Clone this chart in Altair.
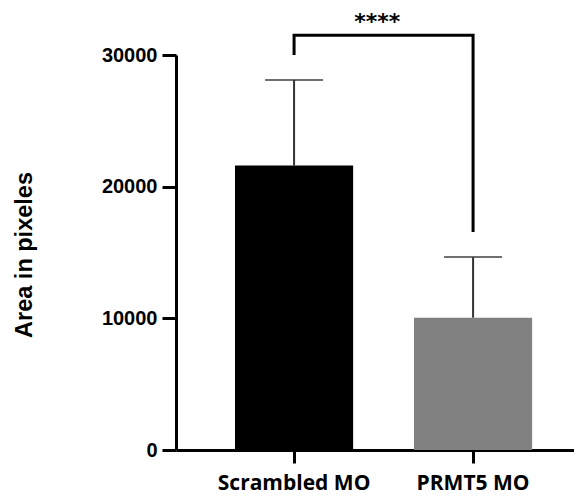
import altair as alt
import pandas as pd

groups = ["Scrambled MO", "PRMT5 MO"]
means = [21600, 10050]
err_top = [28100, 14650]
bar_colors = ["#000000", "#818181"]

bracket_x = ["Scrambled MO", "Scrambled MO", "PRMT5 MO", "PRMT5 MO"]
bracket_y = [30000, 31500, 31500, 16550]
sig_label = "****"
sig_y = 32000

y_ticks = [0, 10000, 20000, 30000]

bars_df = pd.DataFrame({"group": groups, "mean": means, "top": err_top})
bracket_df = pd.DataFrame({"group": bracket_x, "y": bracket_y, "idx": list(range(len(bracket_x)))})
sig_df = pd.DataFrame({"group": [groups[0]], "y": [sig_y], "label": [sig_label]})

W, H = 398, 395

# band layout: step ~179 px, bar ~118 px, first bar starting ~59 px right of y axis
xscale = alt.Scale(domain=groups, paddingInner=0.34, paddingOuter=0.2817, align=0.585)
yscale = alt.Scale(domain=[0, 30000], nice=False, zero=True)

x_axis = alt.Axis(
    title=None, labelAngle=0, labelFont="Open Sans", labelFontWeight="bold",
    labelFontSize=21, labelColor="black", labelPadding=9,
    tickSize=13, tickWidth=3, tickColor="black",
    domainWidth=3, domainColor="black", grid=False,
)
y_axis = alt.Axis(
    title="Area in pixeles", values=y_ticks, format="d",
    labelFont="Liberation Sans", labelFontWeight="bold", labelFontSize=20,
    labelColor="black", labelPadding=5,
    tickSize=14, tickWidth=3, tickColor="black",
    domainWidth=3, domainColor="black", grid=False,
    titleFont="Liberation Sans", titleFontWeight="bold", titleFontSize=23.5,
    titleColor="black", titleX=-152, titleY=H / 2 + 2, titleAngle=-90,
    titleAlign="center", titleBaseline="middle",
)

base = alt.Chart(bars_df)

bars = base.mark_bar().encode(
    x=alt.X("group:N", sort=groups, scale=xscale, axis=x_axis),
    y=alt.Y("mean:Q", scale=yscale, axis=y_axis),
    color=alt.Color("group:N", scale=alt.Scale(domain=groups, range=bar_colors), legend=None),
)

err = base.mark_rule(color="#333333", strokeWidth=2).encode(
    x=alt.X("group:N", sort=groups, scale=xscale),
    y=alt.Y("mean:Q", scale=yscale),
    y2="top:Q",
)

caps = base.mark_tick(color="#333333", thickness=2, size=58).encode(
    x=alt.X("group:N", sort=groups, scale=xscale),
    y=alt.Y("top:Q", scale=yscale),
)

bracket = alt.Chart(bracket_df).mark_line(
    color="black", strokeWidth=3, strokeJoin="miter", strokeCap="butt"
).encode(
    x=alt.X("group:N", sort=groups, scale=xscale),
    y=alt.Y("y:Q", scale=yscale),
    order="idx:Q",
)

stars = alt.Chart(sig_df).mark_text(
    font="DejaVu Sans", fontWeight="bold", fontSize=22, color="black",
    baseline="alphabetic", align="center", dx=24,
).encode(
    x=alt.X("group:N", sort=groups, scale=xscale, bandPosition=1),
    y=alt.Y("y:Q", scale=yscale),
    text="label:N",
)

chart = alt.layer(bars, err, caps, bracket, stars).properties(
    width=W, height=H,
    background="white",
    autosize=alt.AutoSizeParams(type="none"),
    padding={"left": 168, "top": 47, "right": 0, "bottom": 50},
).configure_view(stroke=None)

chart.save("out.html", embed_options={"renderer": "svg", "actions": False})
